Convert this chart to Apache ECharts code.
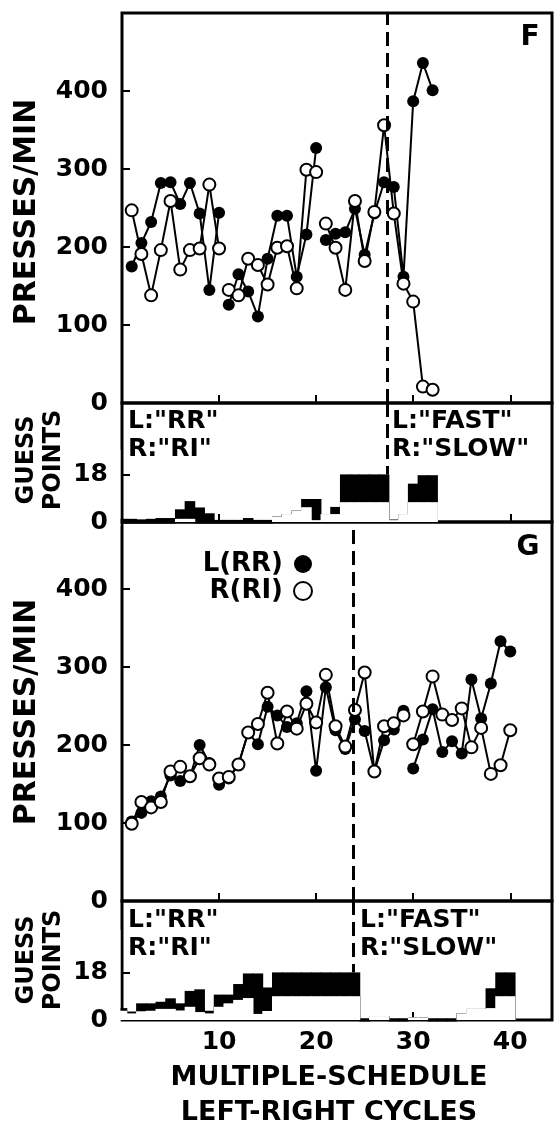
<!DOCTYPE html>
<html>
<head>
<meta charset="utf-8">
<script src="https://cdn.jsdelivr.net/npm/echarts@6/dist/echarts.min.js"></script>
<style>
  html, body { margin: 0; padding: 0; background: #fff; }
  #main { width: 555px; height: 1138px; }
</style>
</head>
<body>
<div id="main"></div>
<script>
// ---- panel F: presses per minute, cycles 1..32
const fCycles = [1, 2, 3, 4, 5, 6, 7, 8, 9, 10, 11, 12, 13, 14, 15, 16, 17, 18, 19, 20,
  21, 22, 23, 24, 25, 26, 27, 28, 29, 30, 31, 32];
const fLeft = [175, 205, 232, 282, 283, 255, 282, 243, 145, 244,
  126, 165, 143, 111, 185, 240, 240, 162, 216, 327,
  209, 217, 219, 249, 190, 243, 283, 277, 162, 387, 436, 401];
const fRight = [247, 191, 138, 196, 259, 171, 196, 198, 280, 198,
  145, 138, 185, 177, 152, 199, 201, 147, 299, 296,
  230, 199, 145, 259, 182, 245, 356, 243, 153, 130, 21, 17];
const fRuns = [[1, 10], [11, 20], [21, 32]];
const fSwitch = 27.3;

// panel F: guess points (white = lower part, black = upper part)
const fGuessCycles = [0, 1, 2, 3, 4, 5, 6, 7, 8, 9, 10, 11, 12, 13, 14, 15, 16,
  17, 18, 19, 20, 21, 22, 23, 24, 25, 26, 27, 28, 29, 30, 31, 32];
const fGuessWhite = [0, 0, 0, 0, 0, 0, 1.2, 1.2, 0, 0, 0, 0, 0, 0, 0, 0, 2,
  3, 4.3, 5.6, 0.7, 3, 3, 7.5, 7.5, 7.5, 7.5, 7.5, 0.7, 3, 7.5, 7.5, 7.5];
const fGuessBlack = [1.2, 1.2, 1, 1.2, 1.5, 1.5, 3.6, 6.7, 5.5, 3.3, 0.8, 0.8, 0.8, 1.5, 0.8, 0.8, 0,
  0, 0, 3.1, 8, 0, 2.7, 10.5, 10.5, 10.5, 10.5, 10.5, 0, 0, 7, 10.2, 10.2];

// ---- panel G: presses per minute, cycles 1..40
const gCycles = [1, 2, 3, 4, 5, 6, 7, 8, 9, 10, 11, 12, 13, 14, 15, 16, 17, 18, 19, 20,
  21, 22, 23, 24, 25, 26, 27, 28, 29, 30, 31, 32, 33, 34, 35, 36, 37, 38, 39, 40];
const gLeft = [102, 113, 128, 134, 161, 154, 159, 200, 177,
  149, 157, 175, 216, 201, 249, 238, 223, 228, 269, 167, 274, 219, 195, 233, 218, 166, 206, 220, 244,
  170, 207, 246, 191, 205, 189, 284, 234, 279, 333, 320];
const gRight = [99, 127, 120, 127, 166, 172, 160, 183, 175,
  157, 159, 175, 216, 227, 267, 202, 243, 221, 253, 229, 290, 224, 198, 245, 293, 166, 224, 228, 238,
  201, 243, 288, 239, 232, 247, 197, 222, 163, 174, 219];
const gRuns = [[1, 9], [10, 29], [30, 40]];
const gSwitch = 23.8;

const gGuessCycles = [0, 1, 2, 3, 4, 5, 6, 7, 8, 9, 10, 11, 12, 13, 14, 15, 16, 17, 18, 19, 20,
  21, 22, 23, 24, 25, 26, 27, 28, 29, 30, 31, 32, 33, 34, 35, 36, 37, 38, 39, 40];
const gGuessWhite = [3.5, 2.5, 3.3, 3.5, 4.2, 4.2, 3.6, 5, 3, 2.5, 5, 6.3, 7.6, 8.3, 2.3, 3.4,
  9, 9, 9, 9, 9, 9, 9, 9, 9, 0, 1.5, 1.5, 0, 0, 1, 1, 0, 0, 0, 2.5, 4.2, 4.2, 4.5, 9, 9];
const gGuessBlack = [1, 0.7, 3, 2.8, 2.7, 4, 2.7, 6, 8.6, 1, 4.6, 3.3, 6, 9.3, 15.3, 8.9,
  9, 9, 9, 9, 9, 9, 9, 9, 9, 0, 0, 0, 0, 0, 0, 0, 0, 0, 0, 0, 0, 0, 7.5, 9, 9];

const xTicks = [10, 20, 30, 40];
const pressTicks = [0, 100, 200, 300, 400];
const guessTicks = [0, 18];

const font = 'DejaVu Sans';
const ink = '#000';

let myChart = echarts.init(document.getElementById('main'), null, { renderer: 'canvas' });

const boxes = [
  { top: 13, height: 390 },
  { top: 403, height: 119 },
  { top: 522, height: 379 },
  { top: 901, height: 119 },
];

const labelStyle = { color: ink, fontFamily: font, fontWeight: 'bold', fontSize: 25 };

function pressSeries(name, cycles, values, runs, axis, filled, switchAt) {
  return runs.map(([a, b], k) => {
    const s = {
      type: 'line', name: name, xAxisIndex: axis, yAxisIndex: axis,
      data: cycles.map((c, i) => [c, values[i]]).filter(p => p[0] >= a && p[0] <= b),
      symbol: 'circle', symbolSize: 12, showSymbol: true,
      lineStyle: { color: ink, width: 2 },
      itemStyle: filled ? { color: ink } : { color: '#fff', borderColor: ink, borderWidth: 2 },
      z: filled ? 3 : 4,
    };
    if (k === 0 && filled) {
      s.markLine = {
        silent: true, symbol: 'none', label: { show: false },
        lineStyle: { color: ink, width: 3, type: [14, 7] },
        data: [{ xAxis: switchAt }],
      };
    }
    return s;
  });
}

// black = full height (white + black), then the white part with its outline on top
function guessSeries(cycles, white, black, axis, switchAt) {
  const pts = (arr) => cycles.map((c, i) => [c, arr[i]]);
  const total = white.map((w, i) => w + black[i]);
  // bars a bit wider than one cycle so neighbours overlap and no seams show
  const common = { type: 'bar', xAxisIndex: axis, yAxisIndex: axis, barWidth: 10.6, barGap: '-100%', clip: true };
  return [
    Object.assign({}, common, {
      data: pts(total), itemStyle: { color: ink }, z: 2,
      markLine: {
        silent: true, symbol: 'none', label: { show: false },
        lineStyle: { color: ink, width: 3, type: [14, 7] },
        data: [[{ coord: [switchAt, 45] }, { coord: [switchAt, 18] }]],
      },
    }),
    Object.assign({}, common, {
      data: pts(white), itemStyle: { color: ink, borderColor: ink, borderWidth: 3 }, z: 3,
    }),
    Object.assign({}, common, {
      data: pts(white), itemStyle: { color: '#fff' }, z: 4,
    }),
  ];
}

// white strip left of the frame so the cycle-0 bars do not stick out
const maskStyle = { fill: '#fff' };

const options = {
  animation: false,
  backgroundColor: '#fff',
  grid: boxes.map(b => ({
    left: 122, width: 430, top: b.top, height: b.height,
    show: true, borderColor: ink, borderWidth: 3, backgroundColor: 'transparent',
  })),
  xAxis: boxes.map((b, i) => ({
    type: 'value', gridIndex: i, min: 0, max: 44.3,
    axisLine: { show: false }, splitLine: { show: false },
    axisTick: { show: true, inside: true, length: 8, lineStyle: { color: ink, width: 2 }, customValues: xTicks },
    axisLabel: Object.assign({ show: i === 3, margin: 10, customValues: xTicks }, labelStyle),
  })),
  yAxis: boxes.map((b, i) => {
    const guess = i % 2 === 1;
    return {
      type: 'value', gridIndex: i, min: 0, max: guess ? 45 : (i === 0 ? 500 : 486),
      axisLine: { show: false }, splitLine: { show: false },
      axisTick: { show: true, inside: true, length: 8, lineStyle: { color: ink, width: 2 },
        customValues: guess ? [18] : [100, 200, 300, 400] },
      axisLabel: Object.assign({ margin: 14, customValues: guess ? guessTicks : pressTicks }, labelStyle),
    };
  }),
  legend: {
    data: [{ name: 'L(RR)', icon: 'circle' }, { name: 'R(RI)', icon: 'circle' }],
    orient: 'vertical', align: 'right', right: 237, top: 546,
    itemWidth: 18, itemHeight: 18, itemGap: 1, selectedMode: false,
    textStyle: { color: ink, fontFamily: font, fontWeight: 'bold', fontSize: 26, padding: [0, 6, 0, 0] },
  },
  graphic: [
    { type: 'rect', z: 100, shape: { x: 110, y: 930, width: 10.4, height: 95 }, style: maskStyle },
    { type: 'rect', z: 100, shape: { x: 110, y: 450, width: 10.4, height: 76 }, style: maskStyle },
    { type: 'text', x: 530, y: 38, style: { text: 'F', font: 'bold 28px "DejaVu Sans"', fill: ink, align: 'center', verticalAlign: 'middle' } },
    { type: 'text', x: 528, y: 548, style: { text: 'G', font: 'bold 28px "DejaVu Sans"', fill: ink, align: 'center', verticalAlign: 'middle' } },
    { type: 'text', x: 128, y: 407, style: { text: 'L:"RR"\nR:"RI"', font: 'bold 25px "DejaVu Sans"', lineHeight: 28, fill: ink } },
    { type: 'text', x: 392, y: 407, style: { text: 'L:"FAST"\nR:"SLOW"', font: 'bold 25px "DejaVu Sans"', lineHeight: 28, fill: ink } },
    { type: 'text', x: 128, y: 906, style: { text: 'L:"RR"\nR:"RI"', font: 'bold 25px "DejaVu Sans"', lineHeight: 28, fill: ink } },
    { type: 'text', x: 360, y: 906, style: { text: 'L:"FAST"\nR:"SLOW"', font: 'bold 25px "DejaVu Sans"', lineHeight: 28, fill: ink } },
    { type: 'text', x: 27, y: 212, rotation: Math.PI / 2, style: { text: 'PRESSES/MIN', font: 'bold 30px "DejaVu Sans"', fill: ink, align: 'center', verticalAlign: 'middle' } },
    { type: 'text', x: 27, y: 712, rotation: Math.PI / 2, style: { text: 'PRESSES/MIN', font: 'bold 30px "DejaVu Sans"', fill: ink, align: 'center', verticalAlign: 'middle' } },
    { type: 'text', x: 40, y: 460, rotation: Math.PI / 2, style: { text: 'GUESS\nPOINTS', font: 'bold 24px "DejaVu Sans"', lineHeight: 27, fill: ink, align: 'center', verticalAlign: 'middle' } },
    { type: 'text', x: 40, y: 960, rotation: Math.PI / 2, style: { text: 'GUESS\nPOINTS', font: 'bold 24px "DejaVu Sans"', lineHeight: 27, fill: ink, align: 'center', verticalAlign: 'middle' } },
    { type: 'text', x: 329, y: 1078, style: { text: 'MULTIPLE-SCHEDULE', font: 'bold 27px "DejaVu Sans"', fill: ink, align: 'center', verticalAlign: 'middle' } },
    { type: 'text', x: 329, y: 1113, style: { text: 'LEFT-RIGHT CYCLES', font: 'bold 27px "DejaVu Sans"', fill: ink, align: 'center', verticalAlign: 'middle' } },
  ],
  series: [].concat(
    pressSeries('F left', fCycles, fLeft, fRuns, 0, true, fSwitch),
    pressSeries('F right', fCycles, fRight, fRuns, 0, false, fSwitch),
    guessSeries(fGuessCycles, fGuessWhite, fGuessBlack, 1, fSwitch),
    pressSeries('L(RR)', gCycles, gLeft, gRuns, 2, true, gSwitch),
    pressSeries('R(RI)', gCycles, gRight, gRuns, 2, false, gSwitch),
    guessSeries(gGuessCycles, gGuessWhite, gGuessBlack, 3, gSwitch)
  ),
};

myChart.setOption(options);
</script>
</body>
</html>
